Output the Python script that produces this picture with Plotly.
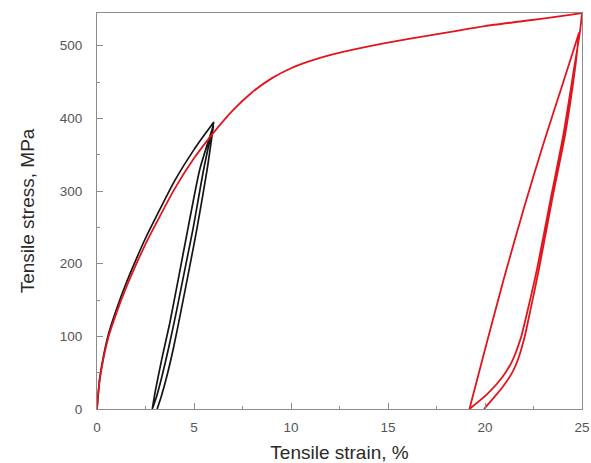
import plotly.graph_objects as go

# ---- Red specimen: monotonic loading to 25 % then unload / reload / unload ----
red_load_strain = [0, 0.13, 0.3, 0.6, 1.0, 1.5, 2.0, 2.5, 3.0, 4.0, 5.0, 6.0, 7.0, 8.0, 9.0,
                   10.0, 11.0, 12.0, 14.0, 16.0, 18.0, 20.0, 22.0, 24.0, 25.0]
red_load_stress = [0, 38, 65, 100, 132, 167, 198, 227, 253, 303, 345, 380, 411, 436, 455,
                   469, 479, 487, 499, 509, 518, 527, 534, 541, 545]

red_unload1_strain = [25.0, 24.9, 24.6, 24.05, 23.37, 22.7, 22.2, 21.85, 21.4, 20.9, 20.1, 19.2]
red_unload1_stress = [545, 520, 470, 379, 287, 195, 136, 98, 66, 44, 20, 0]

red_reload_strain = [19.2, 20.0, 21.0, 22.0, 23.0, 24.0, 24.85]
red_reload_stress = [0, 82, 182, 276, 364, 447, 518]

red_unload2_strain = [24.85, 24.65, 24.14, 23.45, 22.8, 22.34, 22.05, 21.75, 21.4, 20.9, 20.4, 19.95]
red_unload2_stress = [518, 470, 379, 287, 195, 136, 100, 72, 50, 30, 14, 0]

# ---- Black specimen: loading to 6 % then unload / reload / unload ----
blk_load_strain = [0, 0.13, 0.3, 0.6, 1.0, 1.5, 2.0, 2.5, 3.0, 4.0, 5.0, 5.5, 6.02]
blk_load_stress = [0, 40, 68, 104, 137, 173, 205, 235, 262, 314, 357, 376, 395]

blk_unload1_strain = [6.02, 5.5, 4.95, 4.55, 4.1, 3.7, 3.35, 3.08, 2.85]
blk_unload1_stress = [395, 330, 248, 195, 135, 85, 45, 18, 0]

blk_reload_strain = [2.85, 3.0, 3.35, 3.75, 4.2, 4.7, 5.3, 6.0]
blk_reload_stress = [0, 24, 70, 118, 180, 250, 330, 390]

blk_unload2_strain = [6.0, 5.68, 5.15, 4.77, 4.33, 3.95, 3.6, 3.32, 3.1]
blk_unload2_stress = [390, 330, 248, 195, 135, 85, 45, 18, 0]

x_range = [0, 25]
y_range = [0, 545]

RED = "#e3141c"
BLACK = "#151515"

fig = go.Figure()
fig.add_trace(go.Scatter(
    x=blk_load_strain + blk_unload1_strain + blk_reload_strain + blk_unload2_strain,
    y=blk_load_stress + blk_unload1_stress + blk_reload_stress + blk_unload2_stress,
    mode="lines", line=dict(color=BLACK, width=1.7, shape="spline", smoothing=0.6),
    showlegend=False))
fig.add_trace(go.Scatter(
    x=red_load_strain + red_unload1_strain + red_reload_strain + red_unload2_strain,
    y=red_load_stress + red_unload1_stress + red_reload_stress + red_unload2_stress,
    mode="lines", line=dict(color=RED, width=1.8, shape="spline", smoothing=0.6),
    showlegend=False))

axis_common = dict(
    showline=True, linecolor="#8c8c8c", linewidth=1, mirror=True,
    showgrid=False, zeroline=False,
    ticks="inside", ticklen=6, tickcolor="#8c8c8c", tickwidth=1,
    tickfont=dict(family="Liberation Sans, Arial, sans-serif", size=13.5, color="#555555"),
    automargin=False,
)

fig.update_layout(
    width=591, height=463,
    margin=dict(l=97, r=9, t=13, b=54),
    paper_bgcolor="white", plot_bgcolor="white",
    font=dict(family="Liberation Sans, Arial, sans-serif"),
    xaxis=dict(
        range=x_range, dtick=5, tick0=0,
        minor=dict(dtick=2.5, ticks="inside", ticklen=3, tickcolor="#8c8c8c"),
        title=dict(text="Tensile strain, %", font=dict(size=19, color="#2a2a2a"), standoff=13),
        ticklabelstandoff=6,
        **axis_common),
    yaxis=dict(
        range=y_range, dtick=100, tick0=0,
        minor=dict(dtick=50, ticks="inside", ticklen=3, tickcolor="#8c8c8c"),
        title=dict(text="Tensile stress, MPa", font=dict(size=19, color="#2a2a2a"), standoff=20),
        ticklabelstandoff=11,
        **axis_common),
)

fig.write_html("out.html")
